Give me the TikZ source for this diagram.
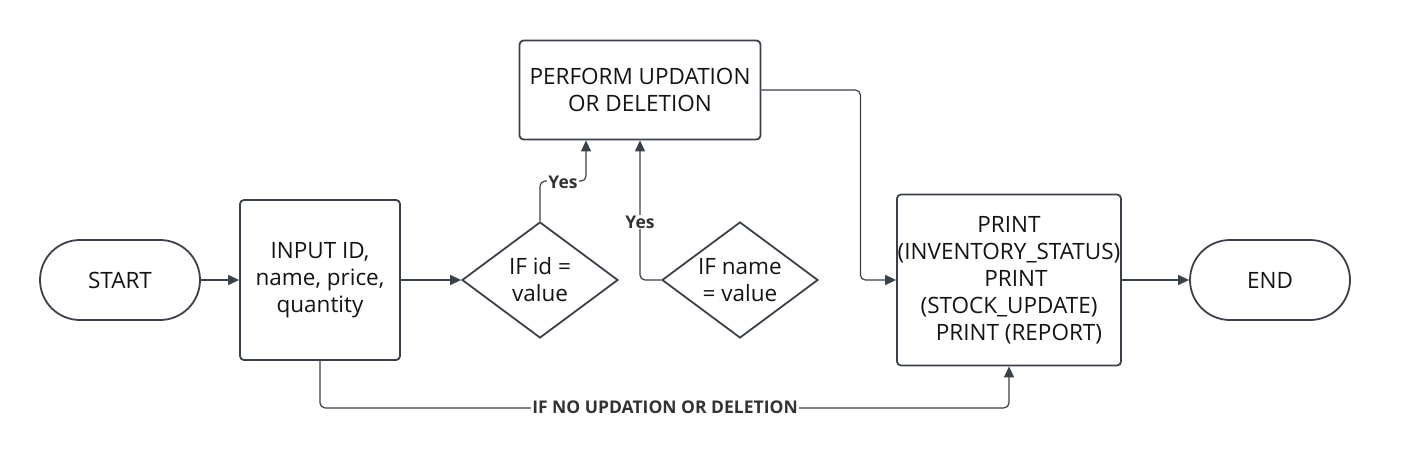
\documentclass[tikz,border=0pt]{standalone}
\usepackage{fontspec}
\setmainfont{Open Sans}
\usetikzlibrary{shapes.geometric,arrows.meta}
\definecolor{ln}{HTML}{3A414A}
\definecolor{tx}{HTML}{141414}
\definecolor{lb}{HTML}{333333}
\begin{document}
\begin{tikzpicture}[x=1pt,y=-1pt,
 box/.style={draw=ln,line width=1.8pt,rounded corners=4pt,fill=white,align=center,text=tx,font=\fontsize{22.5}{27}\selectfont,inner sep=0pt},
 term/.style={box,rounded corners=40pt,minimum width=160pt,minimum height=80pt},
 dec/.style={draw=ln,line width=1.8pt,diamond,aspect=1.34,minimum width=156pt,minimum height=116pt,inner sep=0pt,align=center,text=tx,font=\fontsize{22.5}{27}\selectfont},
 conn/.style={draw=ln,line width=1.2pt,-{Triangle[length=11pt,width=10pt]},rounded corners=5pt},
 lbl/.style={fill=white,text=lb,font=\bfseries\fontsize{17.5}{17.5}\selectfont,inner sep=1pt}
]
\useasboundingbox (0,0) rectangle (1420,457);
\node[term] (start) at (120,280) {START};
\node[box,minimum width=160pt,minimum height=160pt] (input) at (320,280) {INPUT ID,\\name, price,\\quantity};
\node[dec] (d1) at (540,280) {IF id =\\value};
\node[dec] (d2) at (740,280) {IF name\\= value};
\node[box,minimum width=241pt,minimum height=99pt] (perf) at (640,90) {PERFORM UPDATION\\OR DELETION};
\node[box,minimum width=224pt,minimum height=171pt] (print) at (1009,280) {PRINT\\(INVENTORY\_STATUS)\\\hspace*{14pt}PRINT\\(STOCK\_UPDATE)\\\hspace*{20pt}PRINT (REPORT)};
\node[term] (end) at (1270,280) {END};

\draw[conn] (start) -- (input);
\draw[conn] (input) -- (d1);
\draw[conn] (d1.north) -- ++(0,-40) -| ([xshift=-54pt]perf.south);
\draw[conn] (d2.west) -| (perf.south);
\draw[conn] (perf.east) -- ++(99,0) |- (print.west);
\draw[conn] (print) -- (end);
\draw[conn] (input.south) -- ++(0,47) -| (print.south);

\node[lbl] (yes1) at (563,182) {Yes};
\node[lbl] (yes2) at (640,222) {Yes};
\node[lbl] (nolbl) at (665,407) {IF NO UPDATION OR DELETION};
\end{tikzpicture}
\end{document}
